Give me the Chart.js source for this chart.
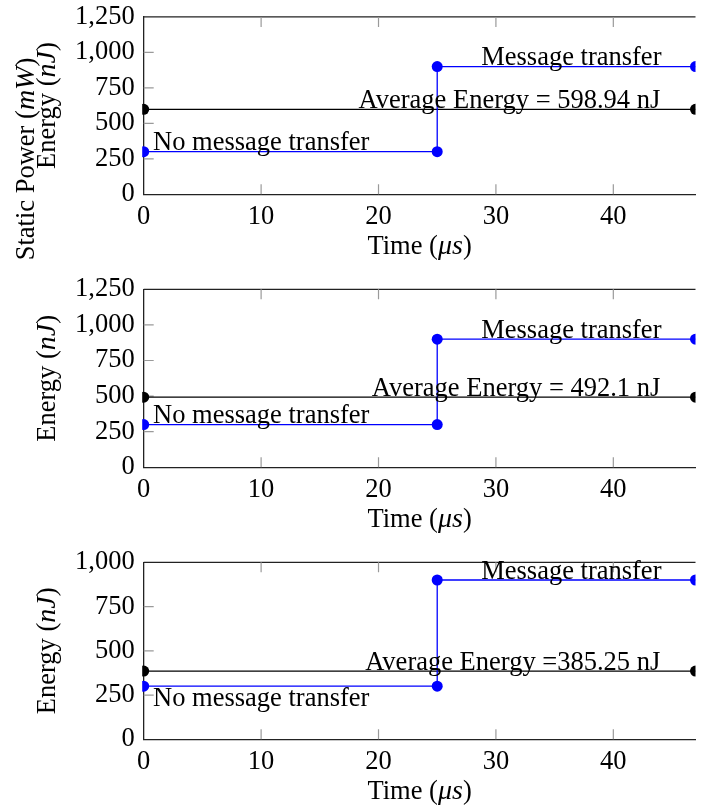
<!DOCTYPE html>
<html lang="en">
<head>
    <meta charset="UTF-8">
    <title>Energy over time</title>
    <script src="https://cdn.jsdelivr.net/npm/chart.js"></script>
    <style>
        body { margin: 0; background: #fff; }
        canvas { position: absolute; left: 0; }
    </style>
</head>
<body>
    <canvas id="grafico1" width="711" height="270" style="top: 0px;"></canvas>
    <canvas id="grafico2" width="711" height="270" style="top: 270px;"></canvas>
    <canvas id="grafico3" width="711" height="269" style="top: 540px;"></canvas>

    <script>
        // data
        const transferTime = [0, 25, 25, 47];
        const transferEnergy = [
            [300, 300, 900, 900],
            [300, 300, 900, 900],
            [300, 300, 900, 900]
        ];
        const averageTime = [0, 47];
        const averageEnergy = [598.94, 492.1, 385.25];
        const averageLabels = ['Average Energy = 598.94 nJ', 'Average Energy = 492.1 nJ', 'Average Energy =385.25 nJ'];
        const yMax = [1250, 1250, 1000];
        const yStep = 250;
        const xMax = 47;
        const xStep = 10;

        const serif = '"Liberation Serif", "Times New Roman", serif';
        const fontSize = 26.5;
        const mathSize = 28;
        const axisColor = '#222';
        const tickColor = '#9a9a9a';
        const plotLeft = 143.7;
        const plotRight = 15.5;

        // chart area inside each canvas (px): top, bottom
        const areas = [
            { top: 16.7, bottom: 75.7, noMsgBelow: false, extraTitle: true },
            { top: 19.3, bottom: 72.7, noMsgBelow: false, extraTitle: false },
            { top: 22.3, bottom: 69.7, noMsgBelow: true, extraTitle: false }
        ];

        const drawRich = (ctx, parts, x, y) => {
            const fontOf = p => (p[1] ? 'italic ' + mathSize : fontSize) + 'px ' + serif;
            let total = 0;
            parts.forEach(p => {
                ctx.font = fontOf(p);
                total += ctx.measureText(p[0]).width;
            });
            let cx = x - total / 2;
            ctx.textAlign = 'left';
            ctx.textBaseline = 'alphabetic';
            parts.forEach(p => {
                ctx.font = fontOf(p);
                ctx.fillText(p[0], cx, y);
                cx += ctx.measureText(p[0]).width;
            });
        };

        const texAxes = {
            id: 'texAxes',
            beforeDatasetsDraw(chart) {
                const { ctx, chartArea: a, scales: { x, y } } = chart;
                ctx.save();
                ctx.strokeStyle = axisColor;
                ctx.lineWidth = 1.3;
                ctx.beginPath();
                ctx.moveTo(a.left, a.top);
                ctx.lineTo(a.right, a.top);
                ctx.stroke();

                ctx.strokeStyle = tickColor;
                ctx.lineWidth = 1.2;
                ctx.beginPath();
                x.ticks.forEach(t => {
                    const px = x.getPixelForValue(t.value);
                    if (px < a.left + 2) return;
                    ctx.moveTo(px, a.bottom); ctx.lineTo(px, a.bottom - 10);
                    ctx.moveTo(px, a.top); ctx.lineTo(px, a.top + 10);
                });
                y.ticks.forEach(t => {
                    const py = y.getPixelForValue(t.value);
                    if (py > a.bottom - 2 || py < a.top + 2) return;
                    ctx.moveTo(a.left, py); ctx.lineTo(a.left + 10, py);
                });
                ctx.stroke();
                ctx.restore();
            },
            afterDatasetsDraw(chart, args, opts) {
                const { ctx, chartArea: a, scales: { x, y } } = chart;
                const i = opts.index;
                ctx.save();
                ctx.fillStyle = '#000';
                ctx.font = fontSize + 'px ' + serif;
                ctx.textBaseline = 'alphabetic';

                // annotations
                ctx.textAlign = 'left';
                const yLow = y.getPixelForValue(transferEnergy[i][0]);
                ctx.fillText('No message transfer', x.getPixelForValue(0.8), areas[i].noMsgBelow ? yLow + 20 : yLow - 2);
                ctx.textAlign = 'right';
                ctx.fillText('Message transfer', x.getPixelForValue(44.1), y.getPixelForValue(transferEnergy[i][3]) - 1.3);
                ctx.fillText(averageLabels[i], x.getPixelForValue(44), y.getPixelForValue(averageEnergy[i]) - 1.5);

                // x title
                drawRich(ctx, [['Time (', false], ['\u03BCs', true], [')', false]], (a.left + a.right) / 2, a.bottom + 60);

                // y titles
                const cy = (a.top + a.bottom) / 2;
                ctx.save();
                ctx.translate(54.5, cy);
                ctx.rotate(-Math.PI / 2);
                drawRich(ctx, [['Energy (', false], ['nJ', true], [')', false]], 0, 0);
                ctx.restore();
                if (areas[i].extraTitle) {
                    ctx.save();
                    ctx.translate(34, 159);
                    ctx.rotate(-Math.PI / 2);
                    drawRich(ctx, [['Static Power (', false], ['mW', true], [')', false]], 0, 0);
                    ctx.restore();
                }
                ctx.restore();
            }
        };

        const makeChart = (id, i) => new Chart(document.getElementById(id), {
            type: 'line',
            data: {
                datasets: [{
                    data: transferTime.map((t, k) => ({ x: t, y: transferEnergy[i][k] })),
                    borderColor: '#0000ff',
                    backgroundColor: '#0000ff',
                    borderWidth: 1.3,
                    pointRadius: 5.5,
                    pointBorderWidth: 0,
                    tension: 0,
                    clip: { left: 1.5, right: 0, top: 8, bottom: 8 }
                }, {
                    data: averageTime.map(t => ({ x: t, y: averageEnergy[i] })),
                    borderColor: '#000',
                    backgroundColor: '#000',
                    borderWidth: 1.3,
                    pointRadius: 5.5,
                    pointBorderWidth: 0,
                    tension: 0,
                    clip: { left: 1.5, right: 0, top: 8, bottom: 8 }
                }]
            },
            options: {
                responsive: false,
                animation: false,
                layout: { padding: { left: 0, right: plotRight, top: areas[i].top, bottom: 0 } },
                plugins: { legend: { display: false }, tooltip: { enabled: false }, texAxes: { index: i } },
                scales: {
                    x: {
                        type: 'linear',
                        min: 0,
                        max: xMax,
                        grid: { display: false },
                        border: { display: true, color: axisColor, width: 1.3 },
                        ticks: { stepSize: xStep, includeBounds: false, autoSkip: false, padding: -1, maxRotation: 0, color: '#000', font: { family: serif, size: fontSize } },
                        afterFit: s => { s.height = areas[i].bottom; }
                    },
                    y: {
                        min: 0,
                        max: yMax[i],
                        grid: { display: false },
                        border: { display: true, color: axisColor, width: 1.3 },
                        ticks: { stepSize: yStep, autoSkip: false, padding: 1, color: '#000', font: { family: serif, size: fontSize },
                                 callback: v => v.toLocaleString('en-US') },
                        afterFit: s => { s.width = plotLeft; }
                    }
                }
            },
            plugins: [texAxes]
        });

        makeChart('grafico1', 0);
        makeChart('grafico2', 1);
        makeChart('grafico3', 2);
    </script>
</body>
</html>
